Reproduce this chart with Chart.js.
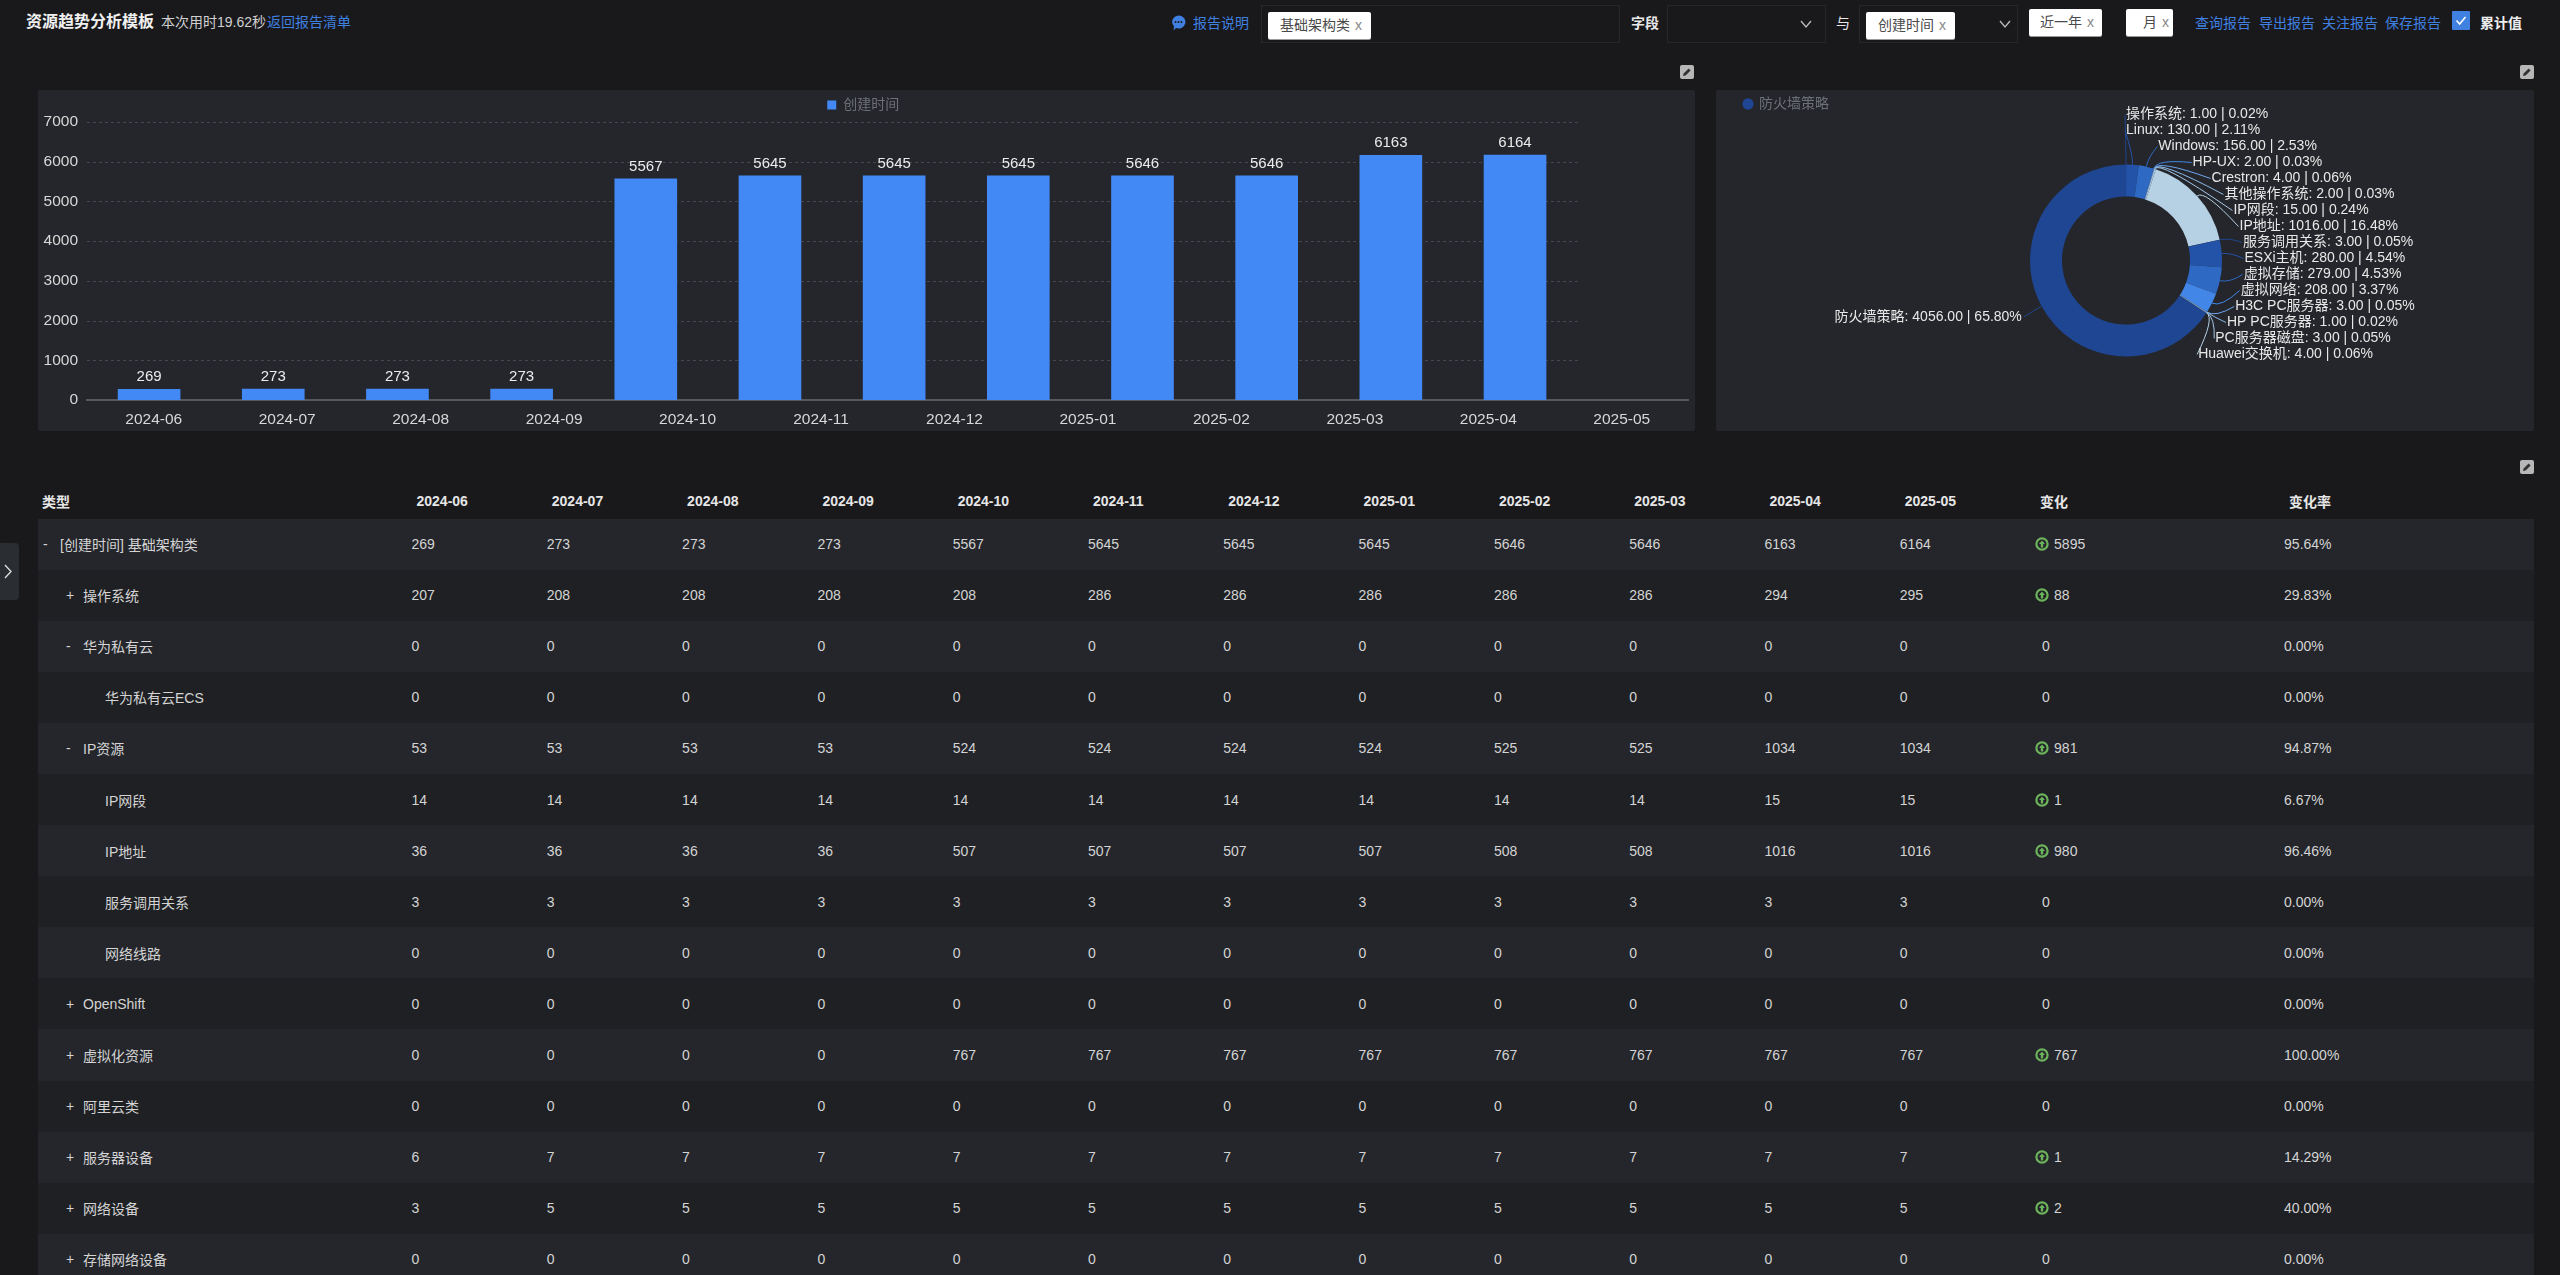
<!DOCTYPE html>
<html lang="zh-CN">
<head>
<meta charset="utf-8">
<title>资源趋势分析模板</title>
<script src="https://cdn.jsdelivr.net/npm/chart.js@4"></script>
<style>
html,body{margin:0;padding:0;width:2560px;height:1275px;overflow:hidden;background:#19191c;color:#d8d8d8;
  font-family:"Liberation Sans","Noto Sans CJK SC",sans-serif;font-size:14px}
.abs{position:absolute;white-space:nowrap;line-height:20px}
.link{color:#3f80e0}
.box{position:absolute;border:1px solid #26272a;box-sizing:border-box;height:38px;top:5px}
.chip{position:absolute;background:#fff;color:#4a4a4a;border-radius:2px;height:27px;line-height:27px;top:12px;box-sizing:border-box;padding-left:12px;white-space:nowrap;box-shadow:0 1px 0 #9a9a9a}
.chip i{font-style:normal;color:#888;margin-left:5px}
.panel{position:absolute;top:90px;height:341px;background:#24262b;border-radius:2px}
.edit{position:absolute;width:14px;height:14px;background:#b7b7b7;border-radius:2px}
#side{position:absolute;left:0;top:543px;width:19px;height:57px;background:#2a2d32;border-radius:0 4px 4px 0}
#tbl{position:absolute;left:38px;top:483.5px;width:2495.5px;border-collapse:collapse;table-layout:fixed}
#tbl th{height:35px;padding:0 0 0 5px;text-align:left;font-weight:bold;color:#e6e6e6}
#tbl th:first-child{padding-left:4px}
#tbl td{height:51.1px;padding:0;color:#d4d4d4}
#tbl tbody tr:nth-child(odd){background:#24262b}
#tbl tbody tr:nth-child(even){background:#1f2023}
#tbl td.name{position:relative}
#tbl td.name span{position:absolute;top:50%;transform:translateY(-50%);white-space:nowrap}
.up{display:inline-block;width:14px;height:14px;vertical-align:-2px;margin-right:5px}
</style>
</head>
<body>

<div class="abs" style="left:26px;top:12px;font-size:16px;font-weight:bold;color:#f0f0f0">资源趋势分析模板</div>
<div class="abs" style="left:161px;top:12px;color:#d0d0d0">本次用时19.62秒</div>
<div class="abs link" style="left:267px;top:12px">返回报告清单</div>

<svg class="abs" style="left:1171px;top:15px" width="15" height="16" viewBox="0 0 15 16"><path d="M7.5 0.5a7 6.5 0 1 1-2.5 12.6L2.6 15.5l.4-4.2A7 6.5 0 0 1 7.5 .5z" fill="#3f80e0"/><circle cx="4.5" cy="7" r="1" fill="#19191c"/><circle cx="7.5" cy="7" r="1" fill="#19191c"/><circle cx="10.5" cy="7" r="1" fill="#19191c"/></svg>
<div class="abs link" style="left:1193px;top:13px">报告说明</div>

<div class="box" style="left:1261px;width:359px"></div>
<div class="chip" style="left:1268px;width:103px">基础架构类<i>x</i></div>
<div class="abs" style="left:1631px;top:13px;font-weight:bold;color:#e8e8e8">字段</div>
<div class="box" style="left:1667px;width:159px"></div>
<svg class="abs" style="left:1800px;top:20px" width="12" height="9"><path d="M1 1l5 6 5-6" fill="none" stroke="#bbb" stroke-width="1.3"/></svg>
<div class="abs" style="left:1836px;top:13px;color:#e8e8e8">与</div>
<div class="box" style="left:1859px;width:159px"></div>
<div class="chip" style="left:1866px;width:89px">创建时间<i>x</i></div>
<svg class="abs" style="left:1999px;top:20px" width="12" height="9"><path d="M1 1l5 6 5-6" fill="none" stroke="#bbb" stroke-width="1.3"/></svg>
<div class="chip" style="left:2029px;width:73px;top:9px;padding-left:11px">近一年<i>x</i></div>
<div class="chip" style="left:2126px;width:47px;top:9px;padding-left:17px">月<i>x</i></div>
<div class="abs link" style="left:2195px;top:13px">查询报告</div>
<div class="abs link" style="left:2259px;top:13px">导出报告</div>
<div class="abs link" style="left:2322px;top:13px">关注报告</div>
<div class="abs link" style="left:2385px;top:13px">保存报告</div>
<svg class="abs" style="left:2452px;top:11px" width="18" height="19"><rect width="18" height="19" rx="1" fill="#3f80e0"/><path d="M4.5 9.5l3.2 3.6 5.8-7" fill="none" stroke="#fff" stroke-width="1.6"/></svg>
<div class="abs" style="left:2480px;top:13px;font-weight:bold;color:#ededed">累计值</div>

<svg class="edit" style="left:1680px;top:65px" viewBox="0 0 14 14"><path d="M3 11l.6-2.6 5-5 2 2-5 5z" fill="#333"/></svg>
<svg class="edit" style="left:2520px;top:65px" viewBox="0 0 14 14"><path d="M3 11l.6-2.6 5-5 2 2-5 5z" fill="#333"/></svg>
<svg class="edit" style="left:2520px;top:460px" viewBox="0 0 14 14"><path d="M3 11l.6-2.6 5-5 2 2-5 5z" fill="#333"/></svg>

<div class="panel" style="left:38px;width:1657px"><canvas id="trendChart"></canvas></div>
<div class="panel" style="left:1716px;width:818px"><canvas id="donutChart"></canvas></div>

<div id="side"><svg width="19" height="57"><path d="M5 22l6 6.5-6 6.5" fill="none" stroke="#e0e0e0" stroke-width="1.3"/></svg></div>

<table id="tbl"><colgroup id="cols"></colgroup><thead><tr id="head"></tr></thead><tbody id="body"></tbody></table>

<script>
const months = ['2024-06','2024-07','2024-08','2024-09','2024-10','2024-11','2024-12','2025-01','2025-02','2025-03','2025-04','2025-05'];
const totals = [269,273,273,273,5567,5645,5645,5645,5646,5646,6163,6164];
const yTicksMax = 7000;

const sliceNames = ['操作系统','Linux','Windows','HP-UX','Crestron','其他操作系统','IP网段','IP地址','服务调用关系','ESXi主机','虚拟存储','虚拟网络','H3C PC服务器','HP PC服务器','PC服务器磁盘','Huawei交换机','防火墙策略'];
const sliceValues = [1,130,156,2,4,2,15,1016,3,280,279,208,3,1,3,4,4056];
const slicePercents = ['0.02','2.11','2.53','0.03','0.06','0.03','0.24','16.48','0.05','4.54','4.53','3.37','0.05','0.02','0.05','0.06','65.80'];
const sliceColors = ['#1f4692','#2352a9','#2e69c4','#4287e8','#6ea6ef','#8fbce8','#a5c8e8','#b6d0e4'];

// table rows: name, level, toggle sign
const rowNames = ['[创建时间] 基础架构类','操作系统','华为私有云','华为私有云ECS','IP资源','IP网段','IP地址','服务调用关系','网络线路','OpenShift','虚拟化资源','阿里云类','服务器设备','网络设备','存储网络设备'];
const rowLevels = [0,1,1,2,1,2,2,2,2,1,1,1,1,1,1];
const rowSigns = ['-','+','-','','-','','','','','+','+','+','+','+','+'];
const rowValues = [
  totals,
  [207,208,208,208,208,286,286,286,286,286,294,295],
  [0,0,0,0,0,0,0,0,0,0,0,0],
  [0,0,0,0,0,0,0,0,0,0,0,0],
  [53,53,53,53,524,524,524,524,525,525,1034,1034],
  [14,14,14,14,14,14,14,14,14,14,15,15],
  [36,36,36,36,507,507,507,507,508,508,1016,1016],
  [3,3,3,3,3,3,3,3,3,3,3,3],
  [0,0,0,0,0,0,0,0,0,0,0,0],
  [0,0,0,0,0,0,0,0,0,0,0,0],
  [0,0,0,0,767,767,767,767,767,767,767,767],
  [0,0,0,0,0,0,0,0,0,0,0,0],
  [6,7,7,7,7,7,7,7,7,7,7,7],
  [3,5,5,5,5,5,5,5,5,5,5,5],
  [0,0,0,0,0,0,0,0,0,0,0,0]
];
const rowChanges = [5895,88,0,0,981,1,980,0,0,0,767,0,1,2,0];
const rowRates = ['95.64%','29.83%','0.00%','0.00%','94.87%','6.67%','96.46%','0.00%','0.00%','0.00%','100.00%','0.00%','14.29%','40.00%','0.00%'];

const FONT = '"Liberation Sans","Noto Sans CJK SC",sans-serif';

// ----------------------------------------------------
// bar chart
const dashGrid = {
  id: 'dashGrid',
  beforeDatasetsDraw(chart) {
    const { ctx, scales } = chart;
    const left = scales.x.left;
    const right = scales.x.getPixelForValue(11.5) + 3;
    ctx.save();
    ctx.strokeStyle = '#44474d';
    ctx.setLineDash([3, 3]);
    ctx.lineWidth = 1;
    scales.y.ticks.forEach(t => {
      if (t.value === 0) return;
      const y = Math.round(scales.y.getPixelForValue(t.value)) + 0.5;
      ctx.beginPath();
      ctx.moveTo(left, y);
      ctx.lineTo(right, y);
      ctx.stroke();
    });
    ctx.restore();
  }
};

const barLabels = {
  id: 'barLabels',
  afterDatasetsDraw(chart) {
    const { ctx } = chart;
    ctx.save();
    ctx.font = '15px ' + FONT;
    ctx.fillStyle = '#ececec';
    ctx.textAlign = 'center';
    ctx.textBaseline = 'middle';
    chart.getDatasetMeta(0).data.forEach((bar, i) => {
      ctx.fillText(totals[i], bar.x, bar.y - 12);
    });
    ctx.restore();
  }
};

new Chart(document.getElementById('trendChart'), {
  type: 'bar',
  data: {
    datasets: [{
      label: '创建时间',
      data: totals.map((v, i) => ({ x: i, y: v })),
      backgroundColor: '#4289f5',
      barThickness: 62,
      xAxisID: 'x',
      yAxisID: 'y'
    }]
  },
  options: {
    maintainAspectRatio: false,
    responsive: true,
    animation: false,
    layout: { padding: { right: 6.5 } },
    plugins: {
      tooltip: { enabled: false },
      legend: {
        position: 'top',
        labels: { color: '#6d7076', font: { size: 14, family: FONT }, usePointStyle: true, pointStyle: 'rect', boxWidth: 9, boxHeight: 9, padding: 8 }
      }
    },
    scales: {
      x: { type: 'linear', display: false, offset: false, min: -0.5, max: 12.397 },
      months: {
        type: 'category',
        labels: months,
        position: 'bottom',
        grid: { display: false, drawTicks: false },
        border: { color: '#55585d', width: 2 },
        ticks: { color: '#d8d8d8', font: { size: 15.5, family: FONT }, padding: 10, maxRotation: 0, autoSkip: false },
        afterFit(s) { s.height = 31; }
      },
      y: {
        min: 0,
        max: yTicksMax,
        grid: { display: false, drawTicks: false },
        border: { display: false },
        ticks: { stepSize: 1000, color: '#d8d8d8', font: { size: 15.5, family: FONT }, padding: 9, callback: v => String(v) },
        afterFit(s) { s.width = 49; }
      }
    }
  },
  plugins: [dashGrid, barLabels]
});

// ----------------------------------------------------
// doughnut with leader lines
const LABEL_R = 118.5;
const donutLabels = {
  id: 'donutLabels',
  afterDatasetsDraw(chart) {
    const { ctx } = chart;
    const arcs = chart.getDatasetMeta(0).data;
    ctx.save();
    ctx.font = '14px ' + FONT;
    ctx.textBaseline = 'middle';
    let row = 0;
    arcs.forEach((arc, i) => {
      const mid = (arc.startAngle + arc.endAngle) / 2;
      const cos = Math.cos(mid), sin = Math.sin(mid);
      const isRight = cos >= 0;
      let lx, ly;
      if (isRight) {
        const dy = -146 + 16 * row++;
        lx = arc.x + Math.sqrt(Math.max(0, LABEL_R * LABEL_R - dy * dy));
        ly = arc.y + dy;
      } else {
        lx = arc.x + cos * LABEL_R;
        ly = arc.y + sin * LABEL_R;
      }
      const color = sliceColors[i % sliceColors.length];
      ctx.strokeStyle = color;
      ctx.lineWidth = 1;
      ctx.beginPath();
      ctx.moveTo(arc.x + cos * arc.outerRadius, arc.y + sin * arc.outerRadius);
      ctx.quadraticCurveTo(arc.x + cos * (arc.outerRadius + 10), arc.y + sin * (arc.outerRadius + 10), lx + (isRight ? -1 : 2), ly);
      ctx.stroke();
      ctx.fillStyle = '#e8e8e8';
      ctx.textAlign = isRight ? 'left' : 'right';
      ctx.fillText(sliceNames[i] + ': ' + sliceValues[i].toFixed(2) + ' | ' + slicePercents[i] + '%', lx, ly);
    });
    ctx.restore();
  }
};

new Chart(document.getElementById('donutChart'), {
  type: 'doughnut',
  data: {
    labels: sliceNames,
    datasets: [{
      data: sliceValues,
      backgroundColor: sliceValues.map((v, i) => sliceColors[i % sliceColors.length]),
      borderWidth: 0,
      radius: 96,
      cutout: '66.7%'
    }]
  },
  options: {
    maintainAspectRatio: false,
    responsive: true,
    animation: false,
    layout: { padding: { left: 21, right: 19 } },
    plugins: {
      tooltip: { enabled: false },
      legend: {
        position: 'chartArea',
        align: 'start',
        labels: {
          color: '#6d7076',
          font: { size: 14, family: FONT },
          usePointStyle: true,
          pointStyle: 'circle',
          boxWidth: 8,
          boxHeight: 8,
          padding: 7,
          generateLabels(chart) {
            return Chart.overrides.doughnut.plugins.legend.labels.generateLabels(chart).filter(l => l.text === '防火墙策略').map(l => Object.assign(l, { fillStyle: '#1f4692', strokeStyle: '#1f4692' }));
          }
        }
      }
    }
  },
  plugins: [donutLabels]
});

// ----------------------------------------------------
// table
const UP = '<svg class="up" viewBox="0 0 14 14"><circle cx="7" cy="7" r="5.6" fill="none" stroke="#6cb35c" stroke-width="2.2"/><path d="M7 3.6L10 7H8.2v3.4H5.8V7H4z" fill="#6cb35c"/></svg>';
document.getElementById('cols').innerHTML = '<col style="width:373.5px">' + months.map(() => '<col style="width:135.3px">').join('') + '<col style="width:249px"><col>';
document.getElementById('head').innerHTML = '<th>类型</th>' + months.map(m => '<th>' + m + '</th>').join('') + '<th>变化</th><th>变化率</th>';
document.getElementById('body').innerHTML = rowNames.map((name, r) => {
  const textLeft = [22, 45, 67][rowLevels[r]];
  const signLeft = textLeft - 17;
  const sign = rowSigns[r] ? '<span style="left:' + signLeft + 'px">' + rowSigns[r] + '</span>' : '';
  const change = rowChanges[r] ? UP + rowChanges[r] : '<span style="margin-left:7px">0</span>';
  return '<tr><td class="name">' + sign + '<span style="left:' + textLeft + 'px">' + name + '</span></td>' +
    rowValues[r].map(v => '<td>' + v + '</td>').join('') +
    '<td>' + change + '</td><td>' + rowRates[r] + '</td></tr>';
}).join('');
</script>
</body>
</html>
